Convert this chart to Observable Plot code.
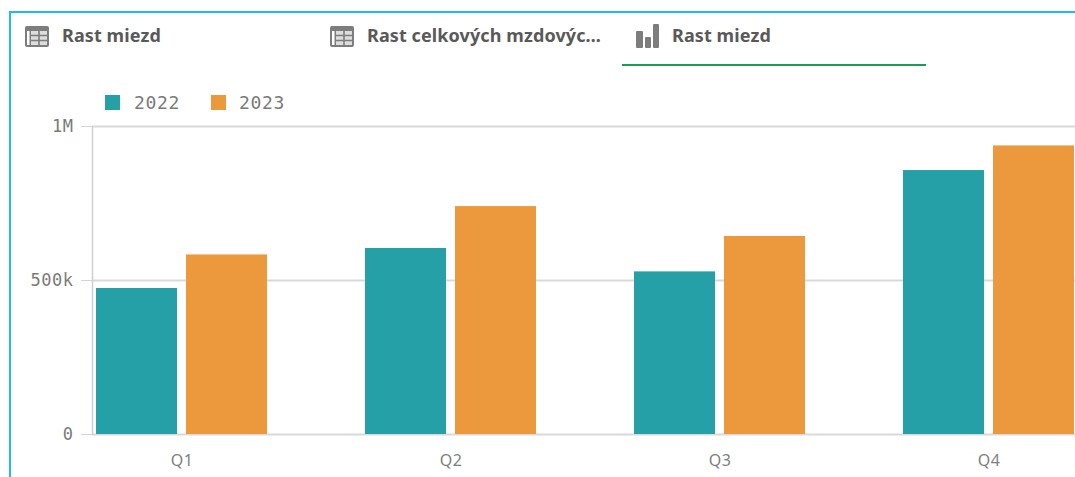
<!DOCTYPE html>
<html>
<head>
<meta charset="utf-8">
<script src="https://cdn.jsdelivr.net/npm/d3@7"></script>
<script src="https://cdn.jsdelivr.net/npm/@observablehq/plot@0.6"></script>
<style>
html,body{margin:0;padding:0;background:#fff;overflow:hidden}
#wrap{position:relative;width:1075px;height:477px;overflow:hidden}
#frame{position:absolute;left:9px;top:11px;width:1080px;height:480px;box-sizing:border-box;border:2px solid #1fb8f8}
.tab{position:absolute;top:24px;font:700 18px/22px "Noto Sans",sans-serif;color:#595959;white-space:nowrap;letter-spacing:.1px}
.ico{position:absolute}
#under{position:absolute;left:622px;top:64px;width:304px;height:2px;background:#1a9e55}
.sw{position:absolute;top:95px;width:15px;height:15px}
.lg{position:absolute;top:92px;font:18px/22px "DejaVu Sans Mono",monospace;color:#7a7a7a;letter-spacing:.7px}
</style>
</head>
<body>
<div id="wrap"><div id="frame"></div></div>
<script>
const quarters = ["Q1","Q2","Q3","Q4"];
const years = ["2022","2023"];
const values2022 = [474000,604000,528000,857000];
const values2023 = [583000,740000,643000,937000];
const colors = ["#26a0a7","#ec983d"];
const yTicks = [0,500000,1000000];
const yLabels = ["0","500k","1M"];
const tabs = [["Rast miezd",62,25,"t"],["Rast celkových mzdovýc…",367,330,"t"],["Rast miezd",672,635,"b"]];

const table2022 = quarters.map((q,i)=>({quarter:q,year:years[0],value:values2022[i]}));
const table2023 = quarters.map((q,i)=>({quarter:q,year:years[1],value:values2023[i]}));

const chart = Plot.plot({
  width:1075,height:477,
  marginLeft:92,marginRight:0,marginTop:126,marginBottom:43,
  style:{background:"transparent",letterSpacing:"0.5px"},
  x:{domain:quarters,range:[96,1074],paddingInner:98/269,paddingOuter:0,round:false,label:null},
  y:{domain:[0,1000000],label:null},
  color:{domain:years,range:colors},
  marks:[
    Plot.ruleY(yTicks,{stroke:"#d9d9d9",strokeWidth:2}),
    Plot.frame({anchor:"left",stroke:"#cfcfcf",strokeWidth:1.5}),
    Plot.barY(table2022,{x:"quarter",y:"value",fill:"year",insetRight:90}),
    Plot.barY(table2023,{x:"quarter",y:"value",fill:"year",insetLeft:90}),
    Plot.axisY({ticks:yTicks,tickFormat:d=>yLabels[yTicks.indexOf(d)],tickSize:11,tickPadding:8,stroke:"#d4d4d4",fill:"#7a7a7a",fontFamily:"DejaVu Sans Mono",fontSize:17,label:null,textStroke:"none"}),
    Plot.axisX({tickSize:0,tickPadding:20,fill:"#808080",fontFamily:"Noto Sans",fontSize:16,label:null})
  ]
});
const wrap = document.getElementById("wrap");
chart.style.position="absolute";chart.style.left="0";chart.style.top="0";
wrap.appendChild(chart);

function add(html){wrap.insertAdjacentHTML("beforeend",html);}
const tableIcon = x=>`<svg class="ico" style="left:${x}px;top:26px" width="24" height="21" viewBox="0 0 24 21"><rect width="24" height="21" rx="2" fill="#7d7d7d"/><rect x="2" y="5" width="2.5" height="14" fill="#fff"/><rect x="6" y="5" width="16" height="14" fill="#ddd"/><path d="M6 9.5h16M6 14.5h16M14 5v14" stroke="#7d7d7d" stroke-width="1.6"/></svg>`;
const barIcon = x=>`<svg class="ico" style="left:${x}px;top:24px" width="25" height="24" viewBox="0 0 25 24"><rect x="1" y="7" width="7" height="17" rx="1" fill="#7d7d7d"/><rect x="10" y="13" width="6" height="11" rx="1" fill="#7d7d7d"/><rect x="18" y="0" width="6" height="24" rx="1" fill="#7d7d7d"/></svg>`;
for(const [label,tx,ix,kind] of tabs){
  add(kind==="t"?tableIcon(ix):barIcon(ix));
  add(`<div class="tab" style="left:${tx}px">${label}</div>`);
}
add('<div id="under"></div>');
years.forEach((y,i)=>{
  const sx=[105,211][i], lx=[134,239][i];
  add(`<div class="sw" style="left:${sx}px;background:${colors[i]}"></div><div class="lg" style="left:${lx}px">${y}</div>`);
});
</script>
</body>
</html>
